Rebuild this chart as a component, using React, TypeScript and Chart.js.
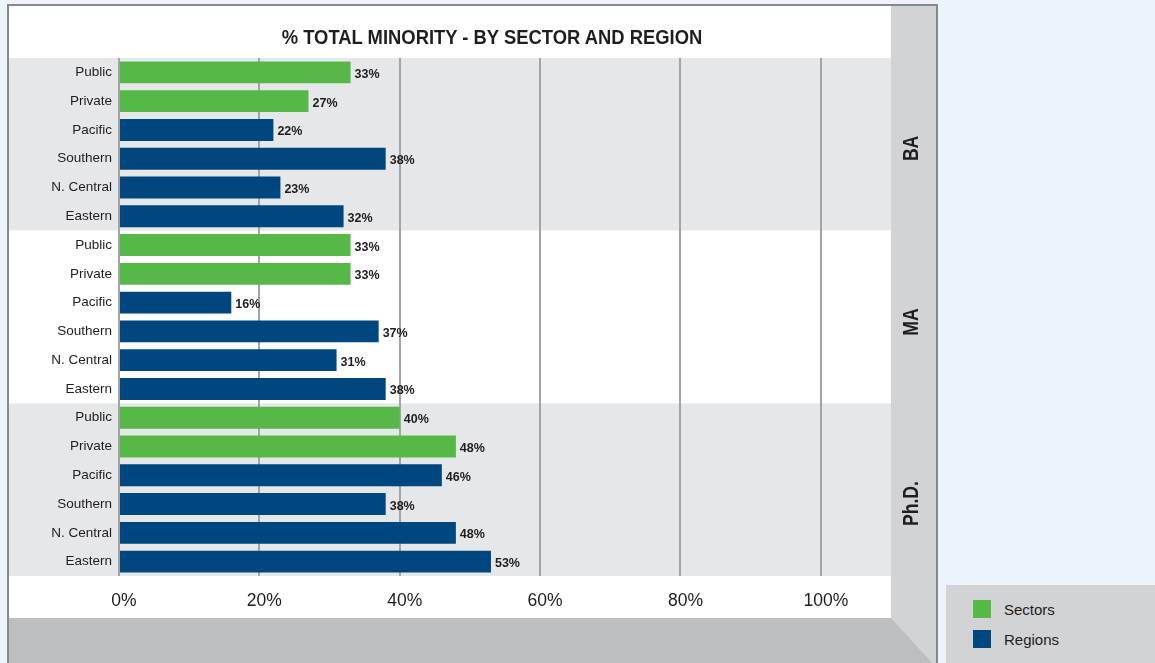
import React, { useEffect, useRef } from "react";
import { Chart, registerables } from "chart.js";

Chart.register(...registerables);

const chartTitle = "% TOTAL MINORITY - BY SECTOR AND REGION";
const categories = ["Public", "Private", "Pacific", "Southern", "N. Central", "Eastern"];
const categoryGroups = ["Sectors", "Sectors", "Regions", "Regions", "Regions", "Regions"];
const degrees = ["BA", "MA", "Ph.D."];
const baValues = [33, 27, 22, 38, 23, 32];
const maValues = [33, 33, 16, 37, 31, 38];
const phdValues = [40, 48, 46, 38, 48, 53];
const xTickValues = [0, 20, 40, 60, 80, 100];
const legendGroups = ["Sectors", "Regions"];

const degreeValues = [baValues, maValues, phdValues];

const GREEN = "#56B947";
const BLUE = "#00467F";
const groupColors: Record<string, string> = { Sectors: GREEN, Regions: BLUE };
const TEXT = "#1f1d1e";
const FONT = '"Liberation Sans", Arial, sans-serif';

export default function App() {
  const canvasRef = useRef<HTMLCanvasElement | null>(null);

  useEffect(() => {
    const canvas = canvasRef.current;
    if (!canvas) return;

    const datasets: any[] = [];
    degrees.forEach((deg, k) => {
      legendGroups.forEach((g) => {
        datasets.push({
          label: `${g} (${deg})`,
          data: degreeValues[k].map((v, i) => (categoryGroups[i] === g ? v : null)),
          yAxisID: "y" + k,
          backgroundColor: groupColors[g],
          borderWidth: 0,
          grouped: false,
          categoryPercentage: 1,
          barPercentage: 0.76,
        });
      });
    });

    const yScales: any = {};
    degrees.forEach((_, k) => {
      yScales["y" + k] = {
        type: "category",
        labels: categories,
        position: "left",
        stack: "degrees",
        stackWeight: 1,
        weight: 3 - k,
        offset: true,
        grid: { display: false, drawTicks: false },
        border: { display: false },
        ticks: {
          autoSkip: false,
          padding: 7,
          color: TEXT,
          font: { family: FONT, size: 13.5 },
        },
        afterFit: (s: any) => {
          s.width = 110;
        },
      };
    });

    const bandPlugin = {
      id: "bands",
      beforeDraw(chart: any) {
        const { ctx, chartArea } = chart;
        ctx.save();
        degrees.forEach((_, k) => {
          const s = chart.scales["y" + k];
          ctx.fillStyle = k % 2 === 0 ? "#E6E7E8" : "#FFFFFF";
          ctx.fillRect(0, s.top, chartArea.right, s.bottom - s.top);
        });
        ctx.restore();
      },
    };

    const labelPlugin = {
      id: "valueLabels",
      afterDatasetsDraw(chart: any) {
        const { ctx } = chart;
        ctx.save();
        ctx.font = `bold 12.5px ${FONT}`;
        ctx.fillStyle = TEXT;
        ctx.textAlign = "left";
        ctx.textBaseline = "middle";
        chart.data.datasets.forEach((ds: any, i: number) => {
          const meta = chart.getDatasetMeta(i);
          meta.data.forEach((bar: any, j: number) => {
            const v = ds.data[j];
            if (v == null) return;
            ctx.fillText(`${v}%`, bar.x + 4, bar.y + 2);
          });
        });
        ctx.restore();
      },
      afterDraw(chart: any) {
        const { ctx, chartArea } = chart;
        ctx.save();
        ctx.font = `bold 22px ${FONT}`;
        ctx.fillStyle = TEXT;
        ctx.textAlign = "right";
        ctx.textBaseline = "middle";
        degrees.forEach((deg, k) => {
          const s = chart.scales["y" + k];
          ctx.save();
          ctx.translate(chartArea.right + 21, s.top + (s.bottom - s.top) * 0.45);
          ctx.rotate(-Math.PI / 2);
          ctx.scale(0.8, 1);
          ctx.fillText(deg, 0, 0);
          ctx.restore();
        });
        ctx.restore();
      },
    };

    const chart = new Chart(canvas, {
      type: "bar",
      data: { labels: categories, datasets },
      options: {
        indexAxis: "y",
        animation: false,
        responsive: false,
        devicePixelRatio: 1,
        layout: { padding: { top: 52, right: 45, left: 0, bottom: 0 } },
        plugins: {
          legend: { display: false },
          title: { display: false },
          tooltip: { enabled: false },
        },
        scales: {
          x: {
            type: "linear",
            position: "bottom",
            min: 0,
            max: 110,
            afterBuildTicks: (s: any) => {
              s.ticks = xTickValues.map((v) => ({ value: v }));
            },
            grid: { color: "#A2A4A7", lineWidth: 2, drawTicks: false },
            border: { display: false },
            ticks: {
              callback: (v: any) => `${v}%`,
              color: TEXT,
              font: { family: FONT, size: 17.5 },
              padding: 15,
              labelOffset: 5,
            },
            afterFit: (s: any) => {
              s.height = 42;
            },
          },
          ...yScales,
        },
      },
      plugins: [bandPlugin, labelPlugin],
    } as any);

    return () => chart.destroy();
  }, []);

  return (
    <div
      style={{
        position: "absolute",
        left: 0,
        top: 0,
        width: 1155,
        height: 663,
        background: "#EDF3FB",
        overflow: "hidden",
      }}
    >
      <div
        style={{
          position: "absolute",
          left: 7,
          top: 4,
          width: 931,
          height: 700,
          boxSizing: "border-box",
          borderLeft: "2px solid #86888B",
          borderTop: "2px solid #86888B",
          borderRight: "2px solid #86888B",
          background: "#FFFFFF",
        }}
      />
      <div
        style={{
          position: "absolute",
          left: 9,
          top: 618,
          width: 927,
          height: 45,
          background: "#BCBEC0",
        }}
      />
      <div
        style={{
          position: "absolute",
          left: 891,
          top: 6,
          width: 45,
          height: 657,
          background: "#D2D3D5",
          clipPath: "polygon(0px 0px, 100% 0px, 100% 100%, 41px 100%, 0px 612px)",
        }}
      />
      <canvas
        ref={canvasRef}
        width={927}
        height={612}
        style={{ position: "absolute", left: 9, top: 6, width: 927, height: 612 }}
      />
      <div
        style={{
          position: "absolute",
          left: 492,
          top: 26,
          transform: "translateX(-50%) scaleX(0.92)",
          whiteSpace: "nowrap",
          fontFamily: FONT,
          fontWeight: "bold",
          fontSize: 20,
          lineHeight: "22px",
          color: TEXT,
        }}
      >
        {chartTitle}
      </div>
      <div
        style={{
          position: "absolute",
          left: 946,
          top: 585,
          width: 209,
          height: 78,
          background: "#D2D3D5",
        }}
      >
        {legendGroups.map((g, i) => (
          <div
            key={g}
            style={{
              position: "absolute",
              left: 27,
              top: 15 + i * 30,
              height: 18,
              display: "flex",
              alignItems: "center",
              fontFamily: FONT,
              fontSize: 15,
              color: TEXT,
              whiteSpace: "nowrap",
            }}
          >
            <span
              style={{
                display: "inline-block",
                width: 18,
                height: 18,
                background: groupColors[g],
                marginRight: 13,
              }}
            />
            <span>{g}</span>
          </div>
        ))}
      </div>
    </div>
  );
}
